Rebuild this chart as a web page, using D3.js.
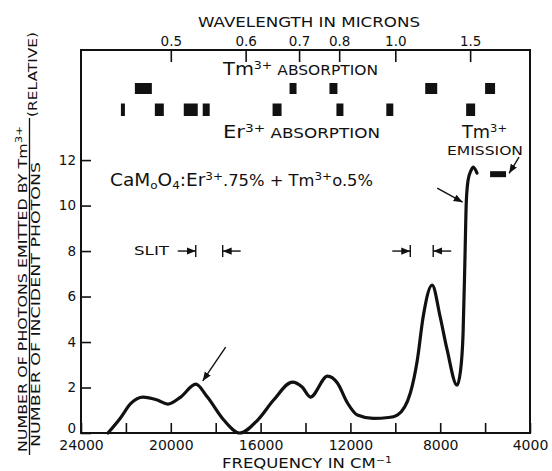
<!DOCTYPE html>
<html><head><meta charset="utf-8">
<script src="https://cdn.jsdelivr.net/npm/d3@7"></script>
<style>
html,body{margin:0;padding:0;background:#fff;}
svg text{font-family:"DejaVu Sans",sans-serif;fill:#111;}
</style></head>
<body><div id="chart"></div>
<script>
// ---- data ----
const freq    = [22800, 22250, 21780, 21240, 20600, 20130, 19560, 18890, 18370, 17640, 16930, 16130, 15420, 14580, 14150, 13780, 13020, 12580, 12130, 11690, 10980, 10300, 9910, 9330, 9020, 8760, 8360, 8000, 7690, 7250, 7100, 6980, 6890, 6840, 6760, 6620, 6530, 6360];
const photons = [0,     0.65,  1.3,   1.58,  1.45,  1.27,  1.58,  2.15,  1.58,  0.57,  0,     0.57,  1.45,  2.24,  2.02,  1.58,  2.5,   2.2,   1.32,  0.79,  0.64,  0.68,  0.79, 1.76, 3.2,  5.1,  6.5,  5.1,  3.65, 2.1,  2.7,  4.4,  8.0,  10.1, 11.1, 11.56, 11.69, 11.43];
const freqTicks = [24000, 22000, 20000, 18000, 16000, 14000, 12000, 10000, 8000, 6000, 4000];
const freqLabeled = [24000, 20000, 16000, 12000, 8000, 4000];
const yTicks = [0, 2, 4, 6, 8, 10, 12];
const wavelengths = [0.5, 0.6, 0.7, 0.8, 1.0, 1.5];
const wavelengthLabels = ["0.5", "0.6", "0.7", "0.8", "1.0", "1.5"];
const tmAbsorption = [[21600, 20844], [14711, 14400], [12933, 12578], [8667, 8133], [6000, 5556]];
const erAbsorption = [[22222, 22044], [20711, 20311], [19422, 18800], [18578, 18267], [15467, 15067], [12622, 12311], [10400, 10089], [6844, 6444]];
const tmEmission = [[5778, 5067]];
const emissionLevel = 11.38;
const slitLeft = [18889, 17689];
const slitRight = [9333, 8311];
const slitLevel = 8;
const arrowNotes = [
  {from: [17556, 3.78], to: [18578, 2.29]},
  {from: [8133, 10.77], to: [7000, 10.15]},
  {from: [4489, 12.13], to: [4930, 11.42]}
];

// ---- layout ----
const W = 552, H = 471;
const svg = d3.select("#chart").append("svg").attr("width", W).attr("height", H);
const x = d3.scaleLinear().domain([24000, 4000]).range([81, 530]);
const y = d3.scaleLinear().domain([0, 16.84]).range([433, 50]);

const defs = svg.append("defs");
defs.append("marker").attr("id", "ah").attr("viewBox", "0 0 10 10").attr("refX", 10).attr("refY", 5)
  .attr("markerWidth", 9).attr("markerHeight", 9).attr("markerUnits", "userSpaceOnUse").attr("orient", "auto")
  .append("path").attr("d", "M0,1 L10,5 L0,9 Z").attr("fill", "#111");

// axes
const gB = svg.append("g").attr("transform", `translate(0,${y(0)})`)
  .call(d3.axisBottom(x).tickValues(freqTicks).tickSize(-10).tickPadding(7)
    .tickFormat(d => freqLabeled.includes(d) ? d3.format("d")(d) : ""));
gB.select(".domain").remove();
gB.selectAll("line").attr("stroke", "#111").attr("stroke-width", 1.6);
gB.selectAll("text").attr("font-size", 14).attr("fill", "#111");

const gT = svg.append("g").attr("transform", `translate(0,${y(16.84)})`)
  .call(d3.axisTop(x).tickValues(wavelengths.map(w => 1e4 / w)).tickSize(-12).tickPadding(4)
    .tickFormat((d, i) => wavelengthLabels[i]));
gT.select(".domain").remove();
gT.selectAll("line").attr("stroke", "#111").attr("stroke-width", 1.6);
gT.selectAll("text").attr("font-size", 13.5).attr("fill", "#111");

const gL = svg.append("g").attr("transform", `translate(${x(24000)},0)`)
  .call(d3.axisLeft(y).tickValues(yTicks).tickSize(-10).tickPadding(5));
gL.select(".domain").remove();
gL.selectAll("line").attr("stroke", "#111").attr("stroke-width", 1.6);
gL.selectAll("text").attr("font-size", 13.5).attr("fill", "#111");
gL.selectAll(".tick").filter(d => d === 0).select("text").attr("dy", "-0.05em");

// frame
svg.append("rect").attr("x", x(24000)).attr("y", y(16.84))
  .attr("width", x(4000) - x(24000)).attr("height", y(0) - y(16.84))
  .attr("fill", "none").attr("stroke", "#111").attr("stroke-width", 2);

// curve
const data = freq.map((f, i) => ({f, v: photons[i]}));
svg.append("path").datum(data)
  .attr("d", d3.line().x(d => x(d.f)).y(d => y(d.v)).curve(d3.curveMonotoneX))
  .attr("fill", "none").attr("stroke", "#111").attr("stroke-width", 3.2)
  .attr("stroke-linejoin", "round").attr("stroke-linecap", "round");

// absorption bars
function bars(arr, top, h) {
  svg.append("g").selectAll("rect").data(arr).join("rect")
    .attr("x", d => x(d[0])).attr("width", d => x(d[1]) - x(d[0]))
    .attr("y", top).attr("height", h).attr("fill", "#111");
}
bars(tmAbsorption, 83, 11);
bars(erAbsorption, 103.5, 12.5);
svg.append("g").selectAll("rect").data(tmEmission).join("rect")
  .attr("x", d => x(d[0])).attr("width", d => x(d[1]) - x(d[0]))
  .attr("y", y(emissionLevel) - 3).attr("height", 6).attr("fill", "#111");

// arrows
svg.append("g").selectAll("line").data(arrowNotes).join("line")
  .attr("x1", d => x(d.from[0])).attr("y1", d => y(d.from[1]))
  .attr("x2", d => x(d.to[0])).attr("y2", d => y(d.to[1]))
  .attr("stroke", "#111").attr("stroke-width", 1.4).attr("marker-end", "url(#ah)");

// slit markers
function slit(pair) {
  const yy = y(slitLevel);
  const a = x(pair[0]), b = x(pair[1]);
  const g = svg.append("g").attr("stroke", "#111").attr("stroke-width", 1.4);
  g.append("line").attr("x1", a).attr("x2", a).attr("y1", yy - 6).attr("y2", yy + 6);
  g.append("line").attr("x1", b).attr("x2", b).attr("y1", yy - 6).attr("y2", yy + 6);
  g.append("line").attr("x1", a - 18).attr("x2", a).attr("y1", yy).attr("y2", yy).attr("marker-end", "url(#ah)");
  g.append("line").attr("x1", b + 18).attr("x2", b).attr("y1", yy).attr("y2", yy).attr("marker-end", "url(#ah)");
}
slit(slitLeft);
slit(slitRight);

// texts
function txt(xx, yy, size, anchor) {
  return svg.append("text").attr("x", xx).attr("y", yy).attr("font-size", size).attr("text-anchor", anchor || "start");
}
function fit(t, len) { return t.attr("textLength", len).attr("lengthAdjust", "spacingAndGlyphs"); }
function sup(t, s, size) { t.append("tspan").text(s).attr("font-size", size).attr("dy", -6); }

fit(txt(198, 27, 13.5).text("WAVELENGTH IN MICRONS"), 222);
let fr = txt(222, 468, 13.5).text("FREQUENCY IN CM");
fr.append("tspan").text("−1").attr("font-size", 9).attr("dy", -5);
fit(fr, 170);

let t1 = txt(223, 75, 17);
t1.append("tspan").text("Tm");
sup(t1, "3+", 11);
t1.append("tspan").text(" ABSORPTION").attr("font-size", 13.5).attr("dy", 6);
fit(t1, 155);

let t2 = txt(223, 138, 17);
t2.append("tspan").text("Er");
sup(t2, "3+", 11);
t2.append("tspan").text(" ABSORPTION").attr("font-size", 13.5).attr("dy", 6);
fit(t2, 157);

let t3 = txt(462, 138, 17);
t3.append("tspan").text("Tm");
sup(t3, "3+", 11);
fit(t3, 45);
fit(txt(447, 155, 13).text("EMISSION"), 76);

let f = txt(110, 186, 17);
f.append("tspan").text("CaM");
f.append("tspan").text("o").attr("font-size", 11).attr("dy", 3);
f.append("tspan").text("O").attr("dy", -3);
f.append("tspan").text("4").attr("font-size", 11).attr("dy", 3);
f.append("tspan").text(":Er").attr("dy", -3);
f.append("tspan").text("3+").attr("font-size", 11).attr("dy", -6);
f.append("tspan").text(".75% + Tm").attr("font-size", 15).attr("dy", 6);
f.append("tspan").text("3+").attr("font-size", 11).attr("dy", -6);
f.append("tspan").text("o.5%").attr("font-size", 15).attr("dy", 6);
fit(f, 263);

fit(txt(134, 255, 13).text("SLIT"), 35);

// y label
const gy = svg.append("g");
let l1 = gy.append("text").attr("transform", "translate(27,452) rotate(-90)").attr("font-size", 11.5);
l1.append("tspan").text("NUMBER OF PHOTONS EMITTED BY Tm");
l1.append("tspan").text("3+").attr("font-size", 8.5).attr("dy", -5);
fit(l1, 326);
fit(gy.append("text").attr("transform", "translate(40,447) rotate(-90)").attr("font-size", 11.5)
  .text("NUMBER OF INCIDENT PHOTONS"), 285);
gy.append("line").attr("x1", 29.5).attr("x2", 29.5).attr("y1", 455).attr("y2", 118).attr("stroke", "#111").attr("stroke-width", 1.3);
fit(gy.append("text").attr("transform", "translate(37,117) rotate(-90)").attr("font-size", 11.5)
  .text("(RELATIVE)"), 85);
</script></body></html>
